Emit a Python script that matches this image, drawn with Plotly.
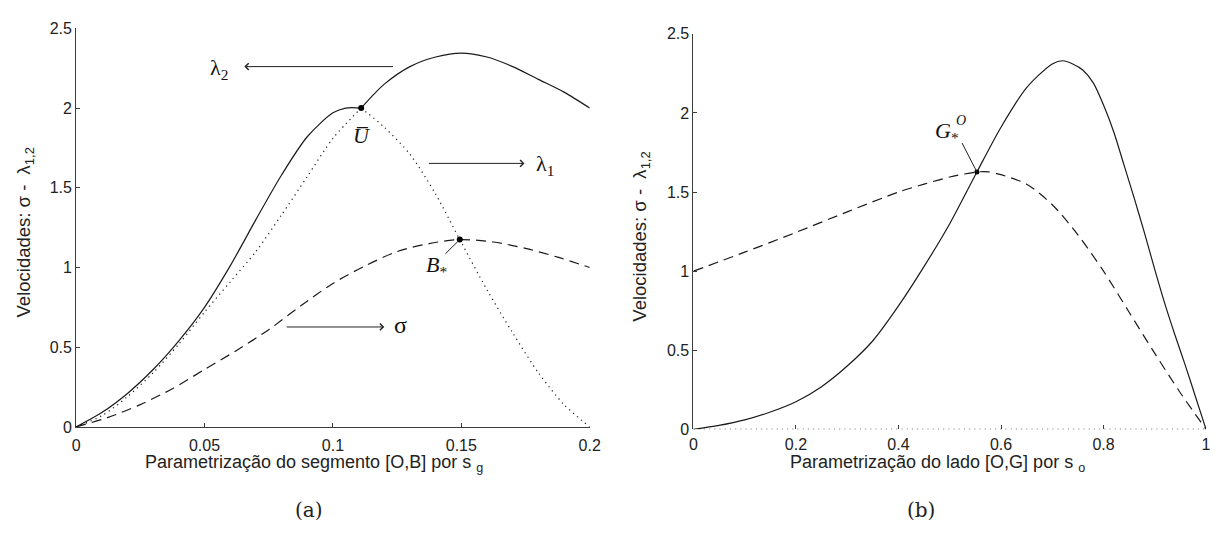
import plotly.graph_objects as go

W, H = 1222, 542

# ---------------- data ----------------
# Panel (a): segment [O,B], parameter s_g
a_lam2_pre_x = [0.0, 0.01, 0.02, 0.03, 0.04, 0.05, 0.06, 0.07, 0.08, 0.09, 0.10, 0.105, 0.111]
a_lam2_pre_y = [0.0, 0.09, 0.21, 0.36, 0.54, 0.75, 1.01, 1.30, 1.58, 1.82, 1.97, 2.0, 2.0]
a_lam2_post_x = [0.111, 0.115, 0.12, 0.13, 0.14, 0.15, 0.16, 0.17, 0.18, 0.19, 0.2]
a_lam2_post_y = [2.0, 2.07, 2.15, 2.26, 2.32, 2.345, 2.32, 2.26, 2.18, 2.10, 2.0]

a_lam1_pre_x = [0.0, 0.01, 0.02, 0.03, 0.04, 0.05, 0.06, 0.07, 0.08, 0.09, 0.10, 0.111]
a_lam1_pre_y = [0.0, 0.07, 0.19, 0.34, 0.52, 0.72, 0.91, 1.10, 1.33, 1.57, 1.81, 2.0]
a_lam1_post_x = [0.111, 0.12, 0.13, 0.14, 0.1494, 0.16, 0.17, 0.18, 0.19, 0.2]
a_lam1_post_y = [2.0, 1.88, 1.71, 1.46, 1.175, 0.86, 0.59, 0.34, 0.14, 0.0]

a_sig_x = [0.0, 0.0125, 0.025, 0.0375, 0.05, 0.0625, 0.075, 0.0875, 0.1, 0.1125, 0.125, 0.1375,
           0.1494, 0.1625, 0.175, 0.1875, 0.2]
a_sig_y = [0.0, 0.06, 0.14, 0.24, 0.36, 0.48, 0.61, 0.76, 0.90, 1.01, 1.10, 1.15,
           1.175, 1.16, 1.12, 1.065, 1.0]

a_pts_x = [0.111, 0.1494]          # U-bar, B*
a_pts_y = [2.0, 1.175]

# Panel (b): side [O,G], parameter s_o
b_lam2_x = [0.0, 0.05, 0.1, 0.15, 0.2, 0.25, 0.3, 0.35, 0.4, 0.45, 0.5, 0.553, 0.6, 0.65, 0.7, 0.72,
            0.74, 0.76, 0.78, 0.8, 0.82, 0.84, 0.86, 0.88, 0.9, 0.92, 0.94, 0.96, 0.98, 1.0]
b_lam2_y = [0.0, 0.025, 0.06, 0.11, 0.175, 0.27, 0.40, 0.56, 0.78, 1.03, 1.30, 1.627, 1.91, 2.16, 2.31, 2.33,
            2.31, 2.27, 2.19, 2.05, 1.88, 1.67, 1.46, 1.24, 1.01, 0.79, 0.59, 0.40, 0.20, 0.0]

b_sig_x = [0.0, 0.1, 0.2, 0.3, 0.4, 0.45, 0.5, 0.553, 0.575, 0.6, 0.65, 0.7, 0.75, 0.8, 0.85, 0.9, 0.95, 1.0]
b_sig_y = [1.0, 1.12, 1.245, 1.375, 1.50, 1.55, 1.595, 1.627, 1.628, 1.61, 1.55, 1.42, 1.23, 1.0, 0.74, 0.48, 0.23, 0.0]

b_lam1_x = [0.0, 1.0]
b_lam1_y = [0.0, 0.0]

b_pts_x = [0.553]                  # G*^O
b_pts_y = [1.627]

a_xticks = [0, 0.05, 0.1, 0.15, 0.2]
a_xticktext = ["0", "0.05", "0.1", "0.15", "0.2"]
b_xticks = [0, 0.2, 0.4, 0.6, 0.8, 1.0]
b_xticktext = ["0", "0.2", "0.4", "0.6", "0.8", "1"]
yticks = [0, 0.5, 1, 1.5, 2, 2.5]
yticktext = ["0", "0.5", "1", "1.5", "2", "2.5"]

# ---------------- layout helpers ----------------
def px(x):
    return x / W

def py(y):
    return 1 - y / H

SANS = "Liberation Sans, Arial, sans-serif"
SERIF = "DejaVu Serif, Liberation Serif, serif"
TIMES = "Liberation Serif, Times New Roman, serif"
LINE = "#1a1a1a"
AX = "#3c3c3c"
TXT = "#222"

fig = go.Figure()

def line(x, y, dash, xa, ya, shape="spline"):
    fig.add_trace(go.Scatter(x=x, y=y, mode="lines", xaxis=xa, yaxis=ya,
                             line=dict(color=LINE, width=1.2, dash=dash, shape=shape, smoothing=0.8),
                             cliponaxis=False, showlegend=False, hoverinfo="skip"))

DASH = "10px,6px"
DOT = "1.2px,4px"

line(a_lam2_pre_x, a_lam2_pre_y, "solid", "x", "y")
line(a_lam2_post_x, a_lam2_post_y, "solid", "x", "y")
line(a_lam1_pre_x, a_lam1_pre_y, DOT, "x", "y")
line(a_lam1_post_x, a_lam1_post_y, DOT, "x", "y")
line(a_sig_x, a_sig_y, DASH, "x", "y")
fig.add_trace(go.Scatter(x=a_pts_x, y=a_pts_y, mode="markers", xaxis="x", yaxis="y",
                         marker=dict(color="black", size=6), showlegend=False, hoverinfo="skip"))

line(b_lam2_x, b_lam2_y, "solid", "x2", "y2")
line(b_sig_x, b_sig_y, DASH, "x2", "y2")
line(b_lam1_x, b_lam1_y, DOT, "x2", "y2", shape="linear")
fig.add_trace(go.Scatter(x=b_pts_x, y=b_pts_y, mode="markers", xaxis="x2", yaxis="y2",
                         marker=dict(color="black", size=5), showlegend=False, hoverinfo="skip"))

axis_common = dict(showgrid=False, zeroline=False, ticks="inside", ticklen=4, tickcolor=AX,
                   tickfont=dict(family=SANS, size=16, color=TXT), fixedrange=True)

fig.update_layout(
    width=W, height=H, margin=dict(l=0, r=0, t=0, b=0),
    paper_bgcolor="white", plot_bgcolor="white",
    xaxis=dict(domain=[px(73), px(593)], range=[0, 0.2], tickvals=a_xticks, ticktext=a_xticktext,
               showline=True, linecolor=AX, linewidth=1, anchor="y", ticklabelstandoff=4, **axis_common),
    yaxis=dict(domain=[py(432.5), py(21)], range=[0, 2.5], tickvals=yticks, ticktext=yticktext,
               showline=True, linecolor=AX, linewidth=1, anchor="x", **axis_common),
    xaxis2=dict(domain=[px(698), px(1217)], range=[0, 1], tickvals=b_xticks, ticktext=b_xticktext,
                showline=False, anchor="y2", ticklabelstandoff=4, **axis_common),
    yaxis2=dict(domain=[py(435), py(26.7)], range=[0, 2.5], tickvals=yticks, ticktext=yticktext,
                showline=True, linecolor=AX, linewidth=1, anchor="x2", **axis_common),
)

ann = []
def ptext(text, x, y, size, family=SANS, angle=0):
    ann.append(dict(text=text, x=px(x), y=py(y), xref="paper", yref="paper", showarrow=False,
                    xanchor="center", yanchor="middle", textangle=angle,
                    font=dict(family=family, size=size, color=TXT)))

# axis titles
ptext("Parametrização do segmento [O,B] por s <sub>g</sub>", 314, 470, 18)
ptext("Parametrização do lado [O,G] por s <sub>o</sub>", 945, 470, 18)
ptext("Velocidades: σ -  λ<sub>1,2</sub>", 21, 232, 18.5, angle=-90)
ptext("Velocidades: σ -  λ<sub>1,2</sub>", 645, 236, 18.5, angle=-90)
# captions
ptext("(a)", 309, 518, 20, family=SERIF)
ptext("(b)", 928, 518, 20, family=SERIF)

# arrows in panel (a)
def arrow(x0, x1, yv, xa="x", ya="y"):
    ann.append(dict(x=x1, y=yv, ax=x0, ay=yv, xref=xa, yref=ya, axref=xa, ayref=ya, text="",
                    showarrow=True, arrowhead=4, arrowsize=1.3, arrowwidth=1, arrowcolor=TXT))

arrow(0.124, 0.0655, 2.26)
arrow(0.1368, 0.1746, 1.653)
arrow(0.0814, 0.1200, 0.627)

def label(text, x, y, size=22, xa="x", ya="y"):
    ann.append(dict(text=text, x=x, y=y, xref=xa, yref=ya, showarrow=False,
                    xanchor="center", yanchor="middle",
                    font=dict(family=TIMES, size=size, color="#111")))

label("λ<sub>2</sub>", 0.0555, 2.245)
label("λ<sub>1</sub>", 0.1825, 1.64)
label("σ", 0.1262, 0.64, size=24)
label("<i>U\u0305</i>", 0.1112, 1.83)
label("<i>B</i><sub>*</sub>", 0.1405, 1.01)
label("<i>G</i><sub>*</sub>", 0.495, 1.88, xa="x2", ya="y2")
label("<i>O</i>", 0.521, 1.95, size=14, xa="x2", ya="y2")

fig.update_layout(annotations=ann)

# leader lines
fig.add_shape(type="line", xref="x", yref="y", x0=0.1438, y0=1.086, x1=0.1494, y1=1.175,
              line=dict(color=TXT, width=1))
fig.add_shape(type="line", xref="x2", yref="y2", x0=0.524, y0=1.81, x1=0.553, y1=1.627,
              line=dict(color=TXT, width=1))

fig.write_html("out.html")
